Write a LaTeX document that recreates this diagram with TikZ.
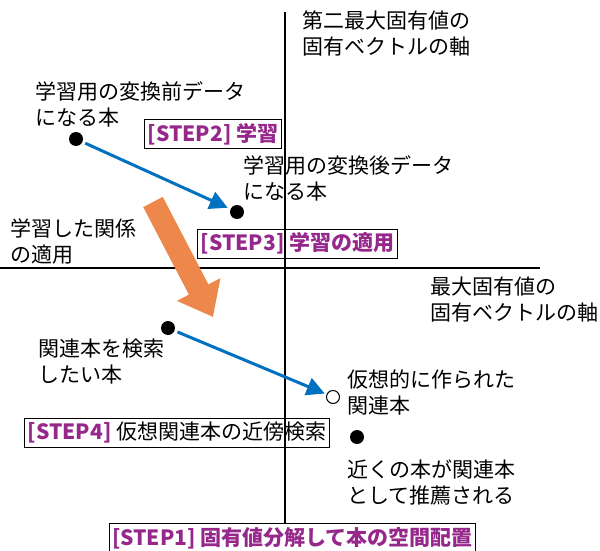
\documentclass[tikz,border=0pt]{standalone}
\usepackage{fontspec}
\setmainfont{Noto Sans CJK JP}
\usetikzlibrary{arrows.meta}

\definecolor{stepcol}{RGB}{150,40,140}
\definecolor{arrblue}{RGB}{0,112,192}
\definecolor{arrorange}{RGB}{237,135,75}

\tikzset{
    lbl/.style={anchor=north west, inner sep=0pt, align=left, font=\fontsize{21}{26}\selectfont},
    stepbox/.style={draw, line width=1pt, inner sep=3pt, minimum height=29pt, font=\fontsize{21}{24}\selectfont},
    bk/.style={circle, fill, inner sep=0pt, minimum size=14pt},
    wt/.style={circle, draw, line width=1pt, inner sep=0pt, minimum size=13pt},
    blu/.style={arrblue, line width=3pt, -{Triangle[length=18pt,width=18pt]}, shorten >=3pt, shorten <=3pt},
}

\begin{document}
\begin{tikzpicture}[x=1pt, y=-1pt]
    \useasboundingbox (0,0) rectangle (600,551);

    \coordinate (ytop) at (285,12);
    \coordinate (xl) at (0,268);
    \coordinate (xr) at (540,268);
    \coordinate (otail) at (153,202);
    \coordinate (ohead) at (213,317);

    \node[lbl] (ax2) at (302,11) {第二最大固有値の\\固有ベクトルの軸};
    \node[lbl] (ax1) at (430,277) {最大固有値の\\固有ベクトルの軸};

    \node[bk] (d1) at (76,139) {};
    \node[bk] (d2) at (237,212) {};
    \node[bk] (d3) at (168,328) {};
    \node[wt] (v1) at (333,397) {};
    \node[bk] (d4) at (357,437) {};

    \node[lbl] (t1) at (35,81) {学習用の変換前データ\\になる本};
    \node[lbl] (t2) at (243,155) {学習用の変換後データ\\になる本};
    \node[lbl] (t3) at (10,219) {学習した関係\\の適用};
    \node[lbl] (t4) at (38,339) {関連本を検索\\したい本};
    \node[lbl] (t5) at (347,370) {仮想的に作られた\\関連本};
    \node[lbl] (t6) at (347,460) {近くの本が関連本\\として推薦される};

    \node[stepbox] (s2) at (213,134) {\textcolor{stepcol}{\bfseries [STEP2] 学習}};
    \node[stepbox] (s3) at (297.5,243.5) {\textcolor{stepcol}{\bfseries [STEP3] 学習の適用}};
    \node[stepbox] (s4) at (177,432.5) {\textcolor{stepcol}{\bfseries [STEP4]} 仮想関連本の近傍検索};
    \node[stepbox] (s1) at (292.5,538) {\textcolor{stepcol}{\bfseries [STEP1] 固有値分解して本の空間配置}};

    \draw[line width=1.5pt] (ytop) -- (ytop |- s1.north);
    \draw[line width=1.5pt] (xl) -- (xr);

    \draw[blu] (d1) -- (d2);
    \draw[blu, shorten >=2pt] (d3) -- (v1);
    \draw[arrorange, line width=22pt, -{Triangle[length=31pt,width=47pt]}] (otail) -- (ohead);

\end{tikzpicture}
\end{document}
